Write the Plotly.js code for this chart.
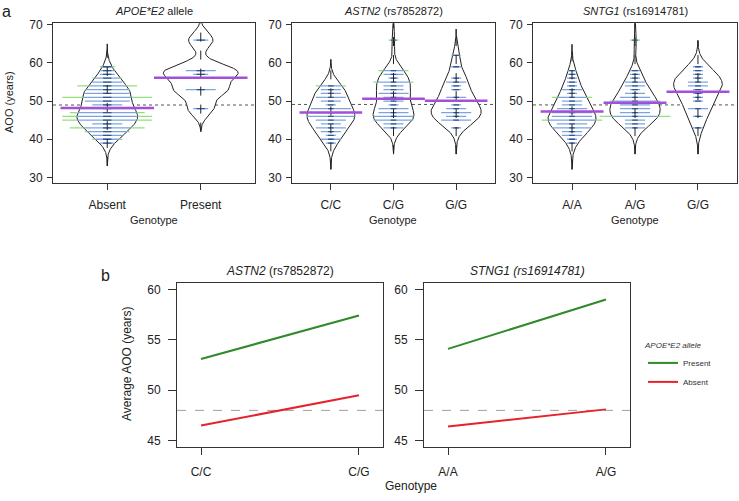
<!DOCTYPE html>
<html><head><meta charset="utf-8">
<script src="https://cdn.plot.ly/plotly-3.0.1.min.js"></script>
<style>html,body{margin:0;padding:0;background:#fff}</style>
</head><body><div id="chart" style="width:739px;height:501px"></div>
<script>
// ================= DATA =================
// (a) bean plots: observations as [age at onset, number of patients]
const apoeGroups  = ['Absent', 'Present'];
const astn2Groups = ['C/C', 'C/G', 'G/G'];
const sntg1Groups = ['A/A', 'A/G', 'G/G'];

const apoeAbsent  = [[39,1],[40,2],[41,2],[42,3],[43,5],[44,2],[45,6],[46,6],[47,5],[48,4],[49,2],[50,3],[51,6],[52,3],[53,3],[54,4],[55,2],[56,2],[57,1],[58,1],[59,1]];
const apoePresent = [[48,1],[53,2],[57,1],[58,2],[66,1]];

const astn2CC = [[39,1],[40,2],[41,1],[42,2],[43,3],[44,2],[45,3],[46,5],[47,3],[48,4],[49,1],[50,2],[51,3],[52,2],[53,2],[54,3]];
const astn2CG = [[43,2],[44,2],[45,4],[46,4],[47,3],[48,3],[49,1],[50,2],[51,2],[52,3],[53,2],[54,2],[55,4],[56,1],[57,2],[58,3],[66,1]];
const astn2GG = [[43,1],[45,3],[46,2],[47,3],[48,2],[49,1],[50,2],[51,2],[53,1],[54,1],[55,2],[56,1],[59,1],[62,1]];

const sntg1AA = [[39,1],[40,1],[41,2],[42,2],[43,4],[44,3],[45,6],[46,4],[47,4],[48,3],[49,2],[50,2],[51,4],[52,1],[53,2],[54,1],[55,1],[56,1],[57,1],[58,1]];
const sntg1AG = [[43,2],[44,2],[45,2],[46,7],[47,3],[48,3],[49,3],[50,5],[51,3],[52,2],[53,1],[54,2],[55,2],[56,1],[57,1],[58,1],[66,1]];
const sntg1GG = [[43,1],[46,1],[48,2],[50,1],[51,1],[52,1],[53,1],[54,2],[55,2],[56,1],[57,1],[58,1],[59,1]];

// (b) interaction plots: average AOO (years)
const astn2Geno    = ['C/C', 'C/G'];
const astn2Present = [53.1, 57.4];
const astn2Absent  = [46.5, 49.5];
const sntg1Geno    = ['A/A', 'A/G'];
const sntg1Present = [54.1, 59.0];
const sntg1Absent  = [46.4, 48.1];
const refAOO = 48;

// ================= STYLE / LAYOUT =================
const FONT = 'Liberation Sans, Arial, Helvetica, sans-serif';
const W = 739, H = 501;
const dx = p => p / W, dy = p => 1 - p / H;

const BLUE = '#7ea3df', DARKBLUE = '#34548f', GREEN = '#93df7b', PURPLE = '#a44fd8';

const panels = [
  {groups: apoeGroups,  beans: [apoeAbsent, apoePresent],        bw: 2.0, xr: [0.42, 2.58], x: [53, 255],  ax: ''},
  {groups: astn2Groups, beans: [astn2CC, astn2CG, astn2GG],      bw: 2.3, xr: [0.38, 3.62], x: [292, 495], ax: '2'},
  {groups: sntg1Groups, beans: [sntg1AA, sntg1AG, sntg1GG],      bw: 2.3, xr: [0.38, 3.62], x: [533, 737], ax: '3'}
];
const topY = [23.3, 182.7], topYRange = [28.6, 70.4];
const botY = [283.3, 446.7], botYRange = [44.4, 60.6];

function dens(obs, bw, y) {
  let s = 0, n = 0;
  for (const [v, c] of obs) { const z = (y - v) / bw; s += c * Math.exp(-0.5 * z * z); n += c; }
  return s / (n * bw * Math.sqrt(2 * Math.PI));
}

const traces = [];
panels.forEach(p => {
  const xa = 'x' + p.ax, ya = 'y' + p.ax;
  const all = [].concat(...p.beans);
  const nAll = all.reduce((a, o) => a + o[1], 0);
  const overall = all.reduce((a, o) => a + o[0] * o[1], 0) / nAll;
  // overall mean dotted line
  traces.push({type: 'scatter', mode: 'lines', xaxis: xa, yaxis: ya, showlegend: false, hoverinfo: 'skip',
    x: [p.xr[0], p.xr[1]], y: [overall, overall], line: {color: '#555', width: 1, dash: 'dot'}});
  // densities
  const grids = p.beans.map(obs => {
    const vals = obs.map(o => o[0]);
    const lo = Math.min(...vals) - 3 * p.bw, hi = Math.max(...vals) + 3 * p.bw;
    const ys = [], ds = [];
    for (let y = lo; y <= hi + 1e-9; y += 0.1) { ys.push(y); ds.push(dens(obs, p.bw, y)); }
    return {ys, ds, lo, hi};
  });
  const maxD = Math.max(...grids.map(g => Math.max(...g.ds)));
  const scale = 0.4 / maxD;
  p.beans.forEach((obs, i) => {
    const c = i + 1, g = grids[i];
    const xs = [], yy = [];
    g.ys.forEach((y, k) => { xs.push(c + g.ds[k] * scale); yy.push(y); });
    for (let k = g.ys.length - 1; k >= 0; k--) { xs.push(c - g.ds[k] * scale); yy.push(g.ys[k]); }
    xs.push(xs[0]); yy.push(yy[0]);
    traces.push({type: 'scatter', mode: 'lines', xaxis: xa, yaxis: ya, showlegend: false, hoverinfo: 'skip',
      x: xs, y: yy, fill: 'toself', fillcolor: '#ffffff', line: {color: '#222', width: 1}});
    // bean lines
    const bx = [], by = [], gx = [], gy = [], kx = [], ky = [];
    let n = 0, sum = 0;
    obs.forEach(([v, cnt]) => {
      n += cnt; sum += v * cnt;
      const hl = cnt * 0.08, w = dens(obs, p.bw, v) * scale;
      const inner = Math.min(hl, w);
      bx.push(c - inner, c + inner, null); by.push(v, v, null);
      if (hl > w) {
        gx.push(c - hl, c - w, null, c + w, c + hl, null); gy.push(v, v, null, v, v, null);
      }
      kx.push(c - 0.045, c + 0.045, null); ky.push(v, v, null);
    });
    traces.push({type: 'scatter', mode: 'lines', xaxis: xa, yaxis: ya, showlegend: false, hoverinfo: 'skip',
      x: gx, y: gy, line: {color: GREEN, width: 1.3}});
    traces.push({type: 'scatter', mode: 'lines', xaxis: xa, yaxis: ya, showlegend: false, hoverinfo: 'skip',
      x: bx, y: by, line: {color: BLUE, width: 1.3}});
    traces.push({type: 'scatter', mode: 'lines', xaxis: xa, yaxis: ya, showlegend: false, hoverinfo: 'skip',
      x: kx, y: ky, line: {color: DARKBLUE, width: 1.3}});
    traces.push({type: 'scatter', mode: 'lines', xaxis: xa, yaxis: ya, showlegend: false, hoverinfo: 'skip',
      x: [c, c], y: [g.lo, g.hi], line: {color: '#222', width: 1, dash: 'dash'}});
    const mean = sum / n;
    traces.push({type: 'scatter', mode: 'lines', xaxis: xa, yaxis: ya, showlegend: false, hoverinfo: 'skip',
      x: [c - 0.5, c + 0.5], y: [mean, mean], line: {color: PURPLE, width: 2.5}});
  });
});

// ---- (b) interaction plots ----
const inter = [
  {geno: astn2Geno, present: astn2Present, absent: astn2Absent, ax: '4', legend: true},
  {geno: sntg1Geno, present: sntg1Present, absent: sntg1Absent, ax: '5', legend: false}
];
const botXR = [0.848, 2.152];
inter.forEach(p => {
  const xa = 'x' + p.ax, ya = 'y' + p.ax;
  const xi = p.geno.map((g, i) => i + 1);
  traces.push({type: 'scatter', mode: 'lines', xaxis: xa, yaxis: ya, showlegend: false, hoverinfo: 'skip',
    x: botXR, y: [refAOO, refAOO], line: {color: '#a0a0a0', width: 1, dash: 'dash'}});
  traces.push({type: 'scatter', mode: 'lines', xaxis: xa, yaxis: ya, name: 'Present', legendgroup: 'p',
    showlegend: p.legend, x: xi, y: p.present, line: {color: '#2f8a2a', width: 2}});
  traces.push({type: 'scatter', mode: 'lines', xaxis: xa, yaxis: ya, name: 'Absent', legendgroup: 'a',
    showlegend: p.legend, x: xi, y: p.absent, line: {color: '#e5232b', width: 2}});
});

// ---- axes ----
const layout = {
  width: W, height: H, margin: {l: 0, r: 0, t: 0, b: 0},
  paper_bgcolor: '#fff', plot_bgcolor: '#fff',
  font: {family: FONT, color: '#222', size: 12},
  hovermode: false,
  legend: {x: dx(643), y: dy(338), xanchor: 'left', yanchor: 'top', bgcolor: 'rgba(0,0,0,0)',
    font: {size: 8, family: FONT, color: '#333'}, tracegroupgap: 0,
    title: {text: '<i>APOE*E2 allele</i>', font: {size: 8, family: FONT, color: '#333'}}},
  annotations: [], shapes: []
};
function xAxis(dom, range, vals, text, anchor, tl, so) {
  return {domain: dom, range: range, tickvals: vals, ticktext: text, anchor: anchor,
    showgrid: false, zeroline: false, showline: true, mirror: true, linecolor: '#333', linewidth: 1,
    ticks: 'outside', ticklen: tl, tickcolor: '#333', ticklabelstandoff: so, tickfont: {size: 12, family: FONT, color: '#222'}};
}
function yAxis(dom, range, vals, anchor, tl, so) {
  return {domain: dom, range: range, tickvals: vals, anchor: anchor,
    showgrid: false, zeroline: false, showline: true, mirror: true, linecolor: '#333', linewidth: 1,
    ticks: 'outside', ticklen: tl, tickcolor: '#333', ticklabelstandoff: so, tickfont: {size: 12, family: FONT, color: '#222'}};
}
const topDomY = [dy(topY[1]), dy(topY[0])];
const topTicks = [30, 40, 50, 60, 70];
panels.forEach(p => {
  const dom = [dx(p.x[0]), dx(p.x[1])];
  layout['xaxis' + p.ax] = xAxis(dom, p.xr, p.groups.map((g, i) => i + 1), p.groups, 'y' + p.ax, 6, 5);
  layout['yaxis' + p.ax] = yAxis(topDomY, topYRange, topTicks, 'x' + p.ax, 5, 2);
});
const botDomY = [dy(botY[1]), dy(botY[0])];
const botPanX = [[177, 383], [424, 630]];
inter.forEach((p, i) => {
  const dom = [dx(botPanX[i][0]), dx(botPanX[i][1])];
  layout['xaxis' + p.ax] = xAxis(dom, botXR, [1, 2], p.geno, 'y' + p.ax, 7, 7);
  layout['yaxis' + p.ax] = yAxis(botDomY, botYRange, [45, 50, 55, 60], 'x' + p.ax, 8, 5);
});

// ---- text annotations ----
function ann(text, x, y, size, opts) {
  layout.annotations.push(Object.assign({text: text, xref: 'paper', yref: 'paper', x: dx(x), y: dy(y),
    showarrow: false, xanchor: 'center', yanchor: 'middle', font: {size: size, family: FONT, color: '#222'}}, opts || {}));
}
ann('a', 6, 11, 16);
ann('b', 106, 275, 16);
ann('<i>APOE*E2</i> allele', 154, 11, 11);
ann('<i>ASTN2</i> (rs7852872)', 393.5, 11, 11);
ann('<i>SNTG1</i> (rs16914781)', 635, 11, 11);
ann('AOO (years)', 9, 102, 11, {textangle: -90});
ann('Genotype', 154, 220, 11);
ann('Genotype', 393.5, 220, 11);
ann('Genotype', 635, 220, 11);
ann('<i>ASTN2</i> (rs7852872)', 280, 271, 12);
ann('<i>STNG1 (rs16914781)</i>', 527, 271, 12);
ann('Average AOO (years)', 127, 364, 12, {textangle: -90});
ann('Genotype', 411, 486, 12);

Plotly.newPlot('chart', traces, layout, {staticPlot: true, displayModeBar: false});
</script></body></html>
